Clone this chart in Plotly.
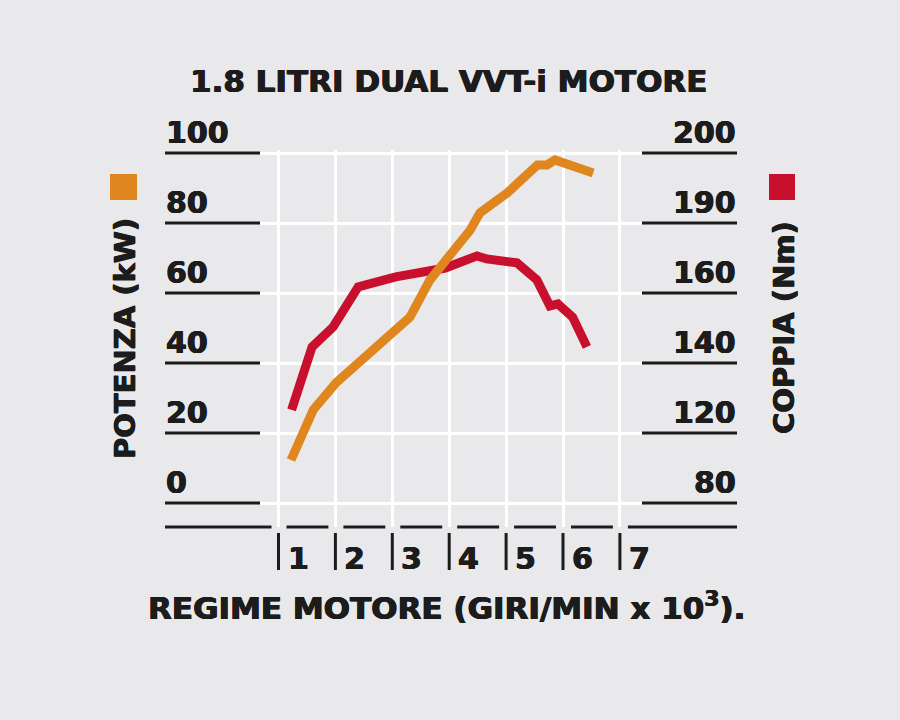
import numpy as np
import plotly.graph_objects as go

# ---------------- data ----------------
rpm_ticks = [1, 2, 3, 4, 5, 6, 7]
power_ticks = [0, 20, 40, 60, 80, 100]           # left axis (kW)
torque_ticks = [80, 120, 140, 160, 190, 200]     # right axis (Nm), same positions as power ticks

power_rpm = [1.22, 1.61, 2.01, 2.61, 3.31, 3.66, 4.37, 4.54, 5.02, 5.55, 5.72, 5.86, 6.53]
power_kw = [12.3, 26.6, 34.3, 42.9, 53.1, 63.7, 78.0, 82.9, 88.6, 96.6, 96.6, 98.0, 94.3]

torque_rpm = [1.23, 1.59, 1.96, 2.40, 3.06, 3.66, 3.93, 4.49, 4.66, 5.19, 5.54, 5.77, 5.91, 6.17, 6.42]
torque_nm = [126.6, 144.6, 150.3, 162.6, 166.9, 169.9, 170.7, 175.9, 174.6, 172.9, 165.6, 156.3, 156.9, 153.1, 144.6]

title = "1.8 LITRI DUAL VVT-i MOTORE"
x_title = "REGIME MOTORE (GIRI/MIN x 10<sup>3</sup>)."
left_title = "POTENZA (kW)"
right_title = "COPPIA (Nm)"

# ---------------- style ----------------
BG = "#e9e9eb"
INK = "#1c1c1c"
ORANGE = "#df861f"
RED = "#c8102e"
FONT = "DejaVu Sans, Open Sans, sans-serif"
HEAVY = "0.6px 0px 0px #1c1c1c, -0.6px 0px 0px #1c1c1c, 0px 0.4px 0px #1c1c1c"

W, H = 900, 720
L, R, T, B = 260, 642, 150, 527          # plot area in pixels
px_per_rpm = 56.9
x_at_1 = 278.5
px_per_unit = 3.5
y0_px = 503

xr = [1 + (L - x_at_1) / px_per_rpm, 1 + (R - x_at_1) / px_per_rpm]
yr = [(y0_px - B) / px_per_unit, (y0_px - T) / px_per_unit]


def px(xp):
    return (xp - L) / (R - L)


def py(yp):
    return (B - yp) / (B - T)


def fnt(size):
    return dict(family=FONT, size=size, color=INK, weight="bold", shadow=HEAVY)


# torque on the chart's nonlinear right scale (piecewise between its ticks)
torque_pos = np.interp(torque_nm, torque_ticks, power_ticks)

fig = go.Figure()
fig.add_trace(go.Scatter(x=torque_rpm, y=torque_pos, mode="lines",
                         line=dict(color=RED, width=9), hoverinfo="skip"))
fig.add_trace(go.Scatter(x=power_rpm, y=power_kw, mode="lines",
                         line=dict(color=ORANGE, width=9), hoverinfo="skip"))

shapes = []
annotations = []

# y tick underlines and labels
for pv, tv in zip(power_ticks, torque_ticks):
    shapes.append(dict(type="line", xref="paper", yref="y", x0=px(165), x1=px(L), y0=pv, y1=pv,
                       line=dict(color=INK, width=3)))
    shapes.append(dict(type="line", xref="paper", yref="y", x0=px(R), x1=px(737), y0=pv, y1=pv,
                       line=dict(color=INK, width=3)))
    annotations.append(dict(text=str(pv), xref="paper", yref="y", x=px(164), y=pv, yshift=21,
                            xanchor="left", yanchor="middle", showarrow=False, font=fnt(30)))
    annotations.append(dict(text=str(tv), xref="paper", yref="y", x=px(738), y=pv, yshift=21,
                            xanchor="right", yanchor="middle", showarrow=False, font=fnt(30)))

# bottom broken baseline
tick_px = [x_at_1 + (t - 1) * px_per_rpm for t in rpm_ticks]
edges = [165] + [v for t in tick_px for v in (t - 7, t + 8)] + [737]
for a, b in zip(edges[0::2], edges[1::2]):
    shapes.append(dict(type="line", xref="paper", yref="paper", x0=px(a), x1=px(b), y0=0, y1=0,
                       line=dict(color=INK, width=3)))

# x tick bars and labels
for t in rpm_ticks:
    shapes.append(dict(type="line", xref="x", yref="paper", x0=t, x1=t, y0=py(533), y1=py(570),
                       line=dict(color=INK, width=3)))
    annotations.append(dict(text=str(t), xref="x", yref="paper", x=t, y=py(558), xshift=7,
                            xanchor="left", yanchor="middle", showarrow=False, font=fnt(30)))

# legend squares
shapes.append(dict(type="rect", xref="paper", yref="paper", x0=px(110), x1=px(137), y0=py(200), y1=py(174),
                   fillcolor=ORANGE, line=dict(width=0)))
shapes.append(dict(type="rect", xref="paper", yref="paper", x0=px(769), x1=px(795), y0=py(200), y1=py(174),
                   fillcolor=RED, line=dict(width=0)))

# titles
annotations.append(dict(text=title, xref="paper", yref="paper", x=px(448), y=py(81),
                        xanchor="center", yanchor="middle", showarrow=False, font=fnt(31)))
annotations.append(dict(text=x_title, xref="paper", yref="paper", x=px(446), y=py(606),
                        xanchor="center", yanchor="middle", showarrow=False, font=fnt(31)))
annotations.append(dict(text=left_title, xref="paper", yref="paper", x=px(125), y=py(339),
                        xanchor="center", yanchor="middle", showarrow=False, textangle=-90,
                        font=fnt(29)))
annotations.append(dict(text=right_title, xref="paper", yref="paper", x=px(784), y=py(328),
                        xanchor="center", yanchor="middle", showarrow=False, textangle=-90,
                        font=fnt(29)))

fig.update_layout(
    width=W, height=H,
    margin=dict(l=L, r=W - R, t=T, b=H - B, pad=0),
    paper_bgcolor=BG, plot_bgcolor=BG,
    showlegend=False,
    shapes=shapes, annotations=annotations,
    xaxis=dict(range=xr, tickvals=rpm_ticks, showticklabels=False, showgrid=True,
               gridcolor="white", gridwidth=3, zeroline=False, showline=False, ticks=""),
    yaxis=dict(range=yr, tickvals=power_ticks, showticklabels=False, showgrid=True,
               gridcolor="white", gridwidth=3, zeroline=True, zerolinecolor="white",
               zerolinewidth=3, showline=False, ticks=""),
)

fig.write_html("out.html")
